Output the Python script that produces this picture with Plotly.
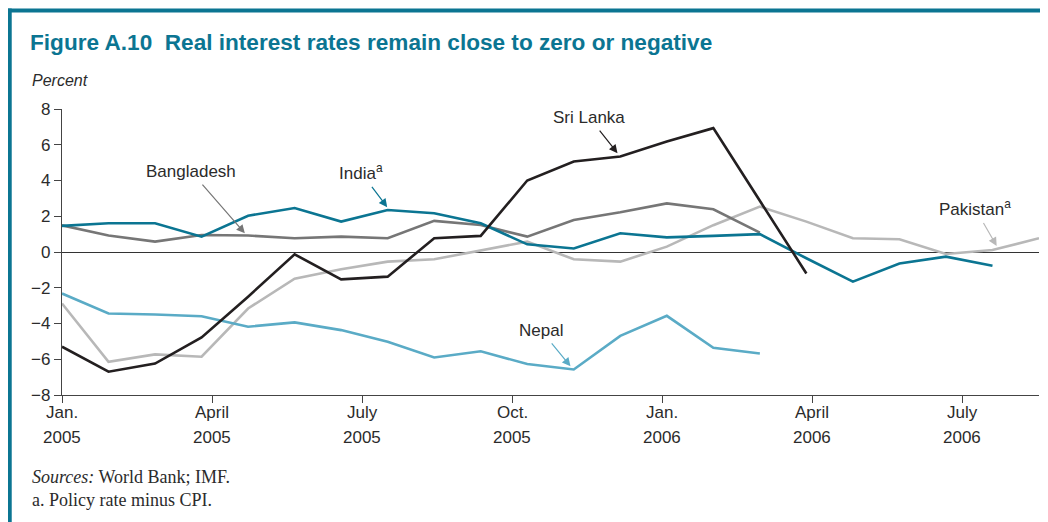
import plotly.graph_objects as go

# ---- data ----
period = list(range(22))  # observation index (roughly monthly, Jan 2005 onward)

india = [1.46, 1.61, 1.61, 0.86, 2.03, 2.46, 1.70, 2.35, 2.17, 1.61, 0.43, 0.20,
         1.05, 0.82, 0.90, 1.00, -0.35, -1.66, -0.64, -0.26, -0.77]
bangladesh = [1.49, 0.92, 0.58, 0.95, 0.92, 0.77, 0.86, 0.77, 1.74, 1.51, 0.86, 1.79,
              2.22, 2.72, 2.39, 1.08]
sri_lanka = [-5.30, -6.70, -6.24, -4.78, -2.50, -0.13, -1.53, -1.38, 0.77, 0.90, 4.00, 5.06,
             5.34, 6.18, 6.93, None, -1.20]
pakistan = [-2.88, -6.14, -5.73, -5.86, -3.16, -1.49, -0.97, -0.54, -0.41, 0.10, 0.58, -0.41,
            -0.54, 0.30, 1.50, 2.54, 1.70, 0.77, 0.71, -0.11, 0.11, 0.77]
nepal = [-2.32, -3.44, -3.50, -3.59, -4.18, -3.94, -4.37, -5.02, -5.90, -5.55, -6.27, -6.57,
         -4.69, -3.57, -5.36, -5.68]

tick_positions = [0, 3.225, 6.45, 9.675, 12.9, 16.125, 19.35]
tick_months = ["Jan.", "April", "July", "Oct.", "Jan.", "April", "July"]
tick_years = ["2005", "2005", "2005", "2005", "2006", "2006", "2006"]
y_ticks = [-8, -6, -4, -2, 0, 2, 4, 6, 8]

TEAL = "#0b7592"
LTEAL = "#5aabc6"
BLACK = "#231f20"
GRAY = "#767676"
LGRAY = "#b8b8b8"
TXT = "#2b2b2b"
SANS = "Liberation Sans, Arial, sans-serif"
SERIF = "Liberation Serif, Times New Roman, serif"

fig = go.Figure()

series = [
    ("Pakistan", pakistan, LGRAY),
    ("Bangladesh", bangladesh, GRAY),
    ("Nepal", nepal, LTEAL),
    ("India", india, TEAL),
    ("Sri Lanka", sri_lanka, BLACK),
]
for name, vals, col in series:
    fig.add_trace(go.Scatter(x=period[:len(vals)], y=vals, mode="lines", name=name,
                             line=dict(color=col, width=2.6), connectgaps=True,
                             showlegend=False, hoverinfo="skip"))

annotations = []
# series labels with pointer arrows: (text, label x, label y, arrow head x, arrow head y, colour)
labels = [
    ("Sri Lanka", 11.33, 7.54, 11.94, 5.53, BLACK),
    ("Bangladesh", 2.77, 4.51, 3.93, 1.05, GRAY),
    ("India<sup>a</sup>", 6.42, 4.48, 6.99, 2.51, TEAL),
    ("Nepal", 10.29, -4.37, 10.93, -6.39, LTEAL),
    ("Pakistan<sup>a</sup>", 19.62, 2.47, 20.09, 0.34, LGRAY),
]
for t, tx, ty, hx, hy, col in labels:
    annotations.append(dict(text=t, x=hx, y=hy, ax=tx, ay=ty, xref="x", yref="y",
                            axref="x", ayref="y", showarrow=True, arrowhead=2,
                            arrowsize=1.4, arrowwidth=1.2, arrowcolor=col,
                            startstandoff=3, standoff=0,
                            font=dict(family=SANS, size=17, color=TXT)))
# two-line x tick labels
for xp, mo, yr in zip(tick_positions, tick_months, tick_years):
    annotations.append(dict(text=mo, x=xp, y=-0.0625, xref="x", yref="paper",
                            showarrow=False, yanchor="middle",
                            font=dict(family=SANS, size=17, color=TXT)))
    annotations.append(dict(text=yr, x=xp, y=-0.148, xref="x", yref="paper",
                            showarrow=False, yanchor="middle",
                            font=dict(family=SANS, size=17, color=TXT)))
# axis unit
annotations.append(dict(text="<i>Percent</i>", x=-0.0331, y=1.0992, xref="paper", yref="paper",
                        xanchor="left", yanchor="middle", showarrow=False,
                        font=dict(family=SANS, size=16, color=TXT)))
# notes
annotations.append(dict(text="<i>Sources:</i> World Bank; IMF.", x=-0.0331, y=-0.285,
                        xref="paper", yref="paper", xanchor="left", yanchor="middle",
                        showarrow=False, font=dict(family=SERIF, size=18, color=TXT)))
annotations.append(dict(text="a. Policy rate minus CPI.", x=-0.0331, y=-0.368,
                        xref="paper", yref="paper", xanchor="left", yanchor="middle",
                        showarrow=False, font=dict(family=SERIF, size=18, color=TXT)))

shapes = [
    dict(type="line", xref="paper", yref="paper", x0=-0.0556, x1=1.01, y0=1.3444, y1=1.3444,
         line=dict(color=TEAL, width=4)),
    dict(type="line", xref="paper", yref="paper", x0=-0.0535, x1=-0.0535, y0=1.351, y1=-0.5,
         line=dict(color=TEAL, width=4)),
]

fig.update_layout(
    width=1040, height=514,
    margin=dict(l=54.3, r=9, t=101.3, b=127.3),
    paper_bgcolor="white", plot_bgcolor="white",
    title=dict(text="<b>Figure A.10\u00a0 Real interest rates remain close to zero or negative</b>",
               x=22 / 1040, xanchor="left", xref="container",
               y=1 - 34 / 514, yanchor="middle",
               font=dict(family=SANS, size=22.6, color=TEAL)),
    annotations=annotations,
    shapes=shapes,
    xaxis=dict(range=[0, 21], tickvals=tick_positions, showticklabels=False,
               showline=True, linecolor="#444", linewidth=1.3, ticks="outside",
               ticklen=7, tickcolor="#444", tickwidth=1.3, showgrid=False, zeroline=False),
    yaxis=dict(range=[-8, 8], tickvals=y_ticks, showline=True, linecolor="#444",
               linewidth=1.3, ticks="outside", ticklen=7, tickcolor="#444", tickwidth=1.3,
               showgrid=False, zeroline=True, zerolinecolor="#333", zerolinewidth=1.2,
               tickfont=dict(family=SANS, size=17, color=TXT)),
)

fig.write_html("out.html")
